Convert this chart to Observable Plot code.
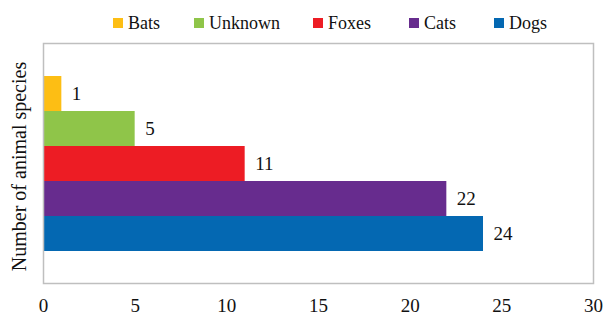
<!DOCTYPE html>
<html><head><meta charset="utf-8">
<script src="https://cdn.jsdelivr.net/npm/d3@7"></script>
<script src="https://cdn.jsdelivr.net/npm/@observablehq/plot@0.6"></script>
<style>
body{margin:0;background:#fff;font-family:"Times New Roman","Liberation Serif",serif;}
#legend{position:relative;height:40px;font-family:"Times New Roman","Liberation Serif",serif;font-size:18px;color:#111;}
.item{position:absolute;top:12px;height:22px;display:flex;align-items:center;white-space:nowrap;}
.sw{width:10px;height:10px;margin-right:5px;}
</style></head><body>
<div id="legend"></div>
<div id="chart"></div>
<script>
const categories = ["Bats","Unknown","Foxes","Cats","Dogs"];
const values = [1,5,11,22,24];
const colors = ["#FDBE14","#8FC549","#ED1C24","#672C8E","#0468B2"];
const xTicks = [0,5,10,15,20,25,30];

const data = categories.map((c,i)=>({cat:c, v:values[i]}));
const FONT = "'Times New Roman', 'Liberation Serif', serif";

const legendLeft = [113,194,313,409,494];
const leg = document.getElementById("legend");
categories.forEach((c,i)=>{
  const it = document.createElement("div");
  it.className="item";
  it.style.left = legendLeft[i]+"px";
  it.innerHTML = `<span class="sw" style="background:${colors[i]}"></span><span>${c}</span>`;
  leg.appendChild(it);
});

const chart = Plot.plot({
  width:604, height:276,
  marginTop:3, marginBottom:33, marginLeft:43, marginRight:11,
  style:{fontFamily:FONT, fontSize:"19px", color:"#111", background:"#fff"},
  x:{domain:[0,30], label:null},
  y:{domain:categories, paddingInner:0, paddingOuter:0.86, axis:null},
  color:{domain:categories, range:colors},
  marks:[
    Plot.barX(data,{y:"cat", x:"v", fill:"cat"}),
    Plot.text(data,{y:"cat", x:"v", text:d=>String(d.v), textAnchor:"start", dx:10, fontSize:19, fontFamily:FONT}),
    Plot.frame({stroke:"#bfbfbf", strokeWidth:1.5}),
    Plot.axisX({ticks:xTicks, tickSize:0, tickPadding:15, fontSize:19, fontFamily:FONT, label:null}),
    Plot.text(["Number of animal species"],{frameAnchor:"left", textAnchor:"middle", dx:-24, dy:3, rotate:-90, fontSize:20, fontFamily:FONT})
  ]
});
document.getElementById("chart").appendChild(chart);
</script></body></html>
